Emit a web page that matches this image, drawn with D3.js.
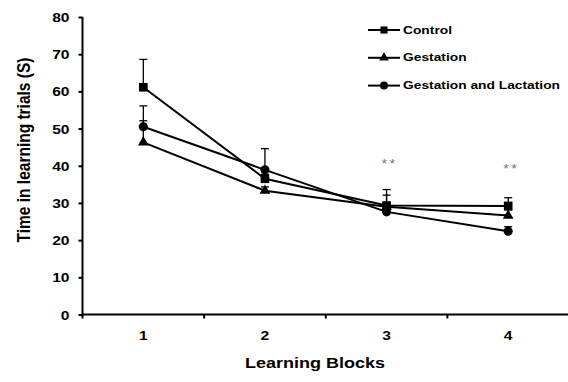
<!DOCTYPE html>
<html>
<head>
<meta charset="utf-8">
<script src="https://cdn.jsdelivr.net/npm/d3@7"></script>
<style>
  body { margin: 0; background: #fff; }
  text { font-family: Arial, "Liberation Sans", sans-serif; font-weight: bold; fill: #000; }
</style>
</head>
<body>
<div id="chart"></div>
<script>
// data
const blocks = [1, 2, 3, 4];
const seriesNames = ["Control", "Gestation", "Gestation and Lactation"];
const control = [61.1, 36.5, 29.3, 29.2];
const gestation = [46.3, 33.3, 29.0, 26.6];
const gestLact = [50.5, 38.9, 27.6, 22.4];
const controlErr = [7.5, 1.2, 4.3, 2.2];
const gestationErr = [5.8, 1.0, 3.1, 1.5];
const gestLactErr = [5.6, 5.7, 1.5, 1.2];
const sigLabels = ["", "", "**", "**"];
const sigLevel = [null, null, 40.8, 39.4];
const yTicks = [0, 10, 20, 30, 40, 50, 60, 70, 80];

const W = 568, H = 382;
const stretch = 1.2; // the figure's text is a bit wide

const series = [
    { name: seriesNames[0], values: control, err: controlErr, shape: d3.symbolSquare },
    { name: seriesNames[1], values: gestation, err: gestationErr, shape: d3.symbolTriangle },
    { name: seriesNames[2], values: gestLact, err: gestLactErr, shape: d3.symbolCircle }
];

const svg = d3.select("#chart")
    .append("svg")
    .attr("width", W)
    .attr("height", H);

const x = d3.scaleBand().domain(blocks).range([82.5, 569]);
const y = d3.scaleLinear().domain([0, 80]).range([314.5, 17]);
const cx = d => x(d) + x.bandwidth() / 2;

// widen a text element horizontally around its anchor
function widen(sel) {
    sel.each(function() {
        const t = d3.select(this);
        const tx = +t.attr("x") || 0, ty = +t.attr("y") || 0;
        t.attr("x", 0).attr("y", 0)
            .attr("transform", `translate(${tx},${ty}) scale(${stretch},1)`);
    });
}

// y axis
const yAxis = svg.append("g")
    .attr("transform", "translate(82.5,0)")
    .call(d3.axisLeft(y).tickValues(yTicks).tickSize(4).tickPadding(9));
yAxis.select(".domain").attr("stroke-width", 2).attr("d", `M0,${y(80)}V${y(0)}`);
yAxis.selectAll(".tick line").attr("stroke-width", 2);
yAxis.selectAll(".tick text")
    .style("font-size", "13px").style("font-family", "Arial, 'Liberation Sans', sans-serif")
    .attr("dy", null).attr("dominant-baseline", "central")
    .call(widen);

// x axis: ticks between the blocks
const xAxis = svg.append("g").attr("transform", `translate(0,${y(0)})`);
xAxis.append("path")
    .attr("d", `M82.5,0H568`)
    .attr("stroke", "#000").attr("stroke-width", 2);
xAxis.selectAll("line")
    .data(blocks.map(b => x(b)).concat([x(4) + x.bandwidth()]))
    .enter()
    .append("line")
    .attr("x1", d => d).attr("x2", d => d)
    .attr("y1", 0).attr("y2", 4)
    .attr("stroke", "#000").attr("stroke-width", 2);
xAxis.selectAll("text")
    .data(blocks)
    .enter()
    .append("text")
    .text(d => d)
    .attr("x", d => cx(d))
    .attr("y", 21)
    .attr("dominant-baseline", "central")
    .style("text-anchor", "middle")
    .style("font-size", "13px")
    .call(widen);

// axis titles
svg.append("text")
    .text("Learning Blocks")
    .attr("transform", `translate(315,368) scale(${stretch},1)`)
    .style("text-anchor", "middle")
    .style("font-size", "15px");

svg.append("text")
    .text("Time in learning trials (S)")
    .attr("transform", `translate(30,150) scale(${stretch},1) rotate(-90)`)
    .style("text-anchor", "middle")
    .style("font-size", "15.5px");

// lines
const line = d3.line().x((d, i) => cx(blocks[i])).y(d => y(d));
svg.append("g")
    .selectAll("path")
    .data(series)
    .enter()
    .append("path")
    .attr("d", d => line(d.values))
    .attr("fill", "none")
    .attr("stroke", "#000")
    .attr("stroke-width", 2);

// error bars (upper only)
const errs = svg.append("g")
    .selectAll("g")
    .data(series.flatMap(s => s.values.map((v, i) => ({ b: blocks[i], v: v, e: s.err[i] }))))
    .enter()
    .append("g")
    .attr("stroke", "#000")
    .attr("stroke-width", 1.3);
errs.append("line")
    .attr("x1", d => cx(d.b)).attr("x2", d => cx(d.b))
    .attr("y1", d => y(d.v)).attr("y2", d => y(d.v + d.e));
errs.append("line")
    .attr("x1", d => cx(d.b) - 4).attr("x2", d => cx(d.b) + 4)
    .attr("y1", d => y(d.v + d.e)).attr("y2", d => y(d.v + d.e));

// markers
series.forEach(s => {
    svg.append("g")
        .selectAll("path")
        .data(s.values)
        .enter()
        .append("path")
        .attr("d", d3.symbol().type(s.shape).size(s.shape === d3.symbolSquare ? 75 : s.shape === d3.symbolTriangle ? 50 : 65))
        .attr("transform", (d, i) => `translate(${cx(blocks[i])},${y(d)})`)
        .attr("fill", "#000");
});

// significance marks
svg.append("g")
    .selectAll("text")
    .data(blocks.filter((b, i) => sigLabels[i]))
    .enter()
    .append("text")
    .text(b => sigLabels[b - 1])
    .attr("x", b => cx(b) + 3)
    .attr("y", b => y(sigLevel[b - 1]) + 5)
    .style("text-anchor", "middle")
    .style("font-size", "12px")
    .style("font-weight", "normal")
    .style("letter-spacing", "2px")
    .style("fill", "#777")
    .call(widen);

// legend
const legend = svg.append("g")
    .selectAll("g")
    .data(series)
    .enter()
    .append("g")
    .attr("transform", (d, i) => `translate(368,${30 + i * 27.8})`);
legend.append("line")
    .attr("x1", 0).attr("x2", 32)
    .attr("stroke", "#000").attr("stroke-width", 2);
legend.append("path")
    .attr("d", d => d3.symbol().type(d.shape).size(d.shape === d3.symbolTriangle ? 40 : 50)())
    .attr("transform", "translate(16,0)")
    .attr("fill", "#000");
legend.append("text")
    .text(d => d.name)
    .attr("x", 35)
    .attr("y", 0)
    .attr("dominant-baseline", "central")
    .style("font-size", "11.5px")
    .call(widen);
</script>
</body>
</html>
